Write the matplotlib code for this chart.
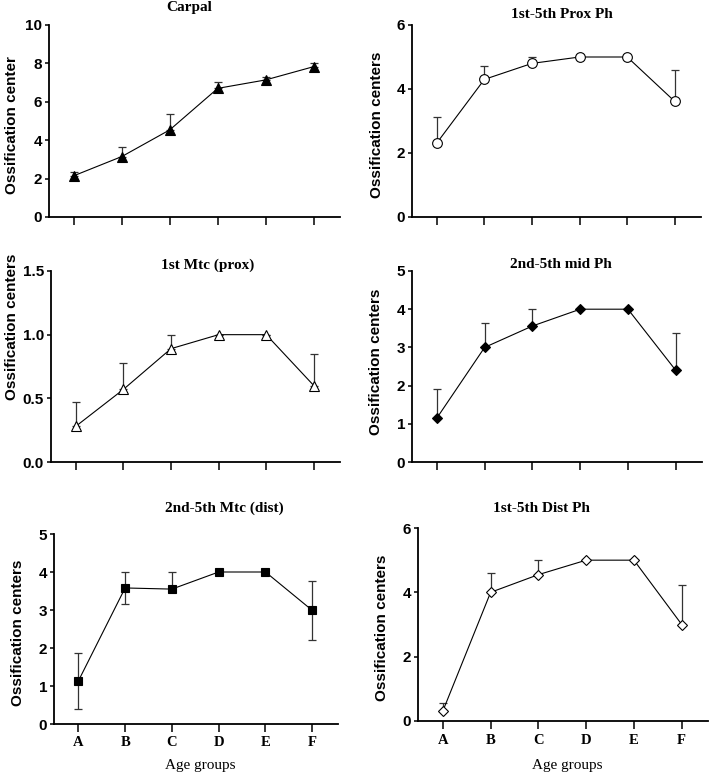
import numpy as np
import matplotlib
matplotlib.use('Agg')
import matplotlib.pyplot as plt

groups = ['A', 'B', 'C', 'D', 'E', 'F']

# means and error bars
carpal_mean = [2.15, 3.15, 4.54, 6.7, 7.14, 7.83]
carpal_up = [0.17, 0.49, 0.82, 0.32, 0.17, 0.21]
carpal_lo = [0, 0, 0, 0, 0, 0]

prox_mean = [2.31, 4.30, 4.80, 5.0, 5.0, 3.61]
prox_up = [0.80, 0.41, 0.21, 0, 0, 0.98]
prox_lo = [0, 0, 0, 0, 0, 0]

mtc1_mean = [0.28, 0.57, 0.89, 1.0, 1.0, 0.60]
mtc1_up = [0.19, 0.21, 0.11, 0, 0, 0.25]
mtc1_lo = [0, 0, 0, 0, 0, 0]

mid_mean = [1.15, 3.0, 3.56, 4.0, 4.0, 2.40]
mid_up = [0.77, 0.63, 0.44, 0, 0, 0.99]
mid_lo = [0, 0, 0, 0, 0, 0]

mtc_dist_mean = [1.13, 3.58, 3.55, 4.0, 4.0, 2.99]
mtc_dist_up = [0.73, 0.42, 0.45, 0, 0, 0.78]
mtc_dist_lo = [0.73, 0.43, 0, 0, 0, 0.77]

dist_mean = [0.31, 4.0, 4.55, 5.0, 5.0, 3.0]
dist_up = [0.24, 0.60, 0.47, 0, 0, 1.23]
dist_lo = [0, 0, 0, 0, 0, 0]

W, H = 709, 772
fig = plt.figure(figsize=(W / 100, H / 100), dpi=100)

def px_axes(left, top, right, bottom):
    return fig.add_axes([left / W, 1 - bottom / H, (right - left) / W, (bottom - top) / H])

panels = [
    # title, mean, up, lo, marker, fill, ylim, yticks, ylabel, box(px), title pos, ylabel pos
    ('Carpal', carpal_mean, carpal_up, carpal_lo, '^', 'black', 10, [0, 2, 4, 6, 8, 10],
     'Ossification center', (49, 25, 340, 217), (189, 7), (12, 125)),
    ('1st-5th Prox Ph', prox_mean, prox_up, prox_lo, 'o', 'white', 6, [0, 2, 4, 6],
     'Ossification centers', (412, 25, 701, 217), (562, 15), (377, 125)),
    ('1st Mtc (prox)', mtc1_mean, mtc1_up, mtc1_lo, '^', 'white', 1.5, [0.0, 0.5, 1.0, 1.5],
     'Ossification centers', (51, 271, 340, 462), (208, 265), (12, 327)),
    ('2nd-5th mid Ph', mid_mean, mid_up, mid_lo, 'D', 'black', 5, [0, 1, 2, 3, 4, 5],
     'Ossification centers', (412, 271, 702, 462), (561, 265), (376, 362)),
    ('2nd-5th Mtc (dist)', mtc_dist_mean, mtc_dist_up, mtc_dist_lo, 's', 'black', 5, [0, 1, 2, 3, 4, 5],
     'Ossification centers', (54, 534, 338, 724), (224, 508), (18, 633)),
    ('1st-5th Dist Ph', dist_mean, dist_up, dist_lo, 'D', 'white', 6, [0, 2, 4, 6],
     'Ossification centers', (418, 528, 708, 721), (541, 508), (382, 628)),
]

sizes = {'^': 6.5, 'o': 7, 'D': 5.5, 's': 6}

x = np.arange(len(groups))
for i, (title, mean, up, lo, mk, fc, ymax, yt, ylab, box, tpos, lpos) in enumerate(panels):
    ax = px_axes(*box)
    ax.errorbar(x, mean, yerr=[lo, up], fmt='none', ecolor='#333333', elinewidth=0.9,
                capsize=3, capthick=0.9, zorder=2)
    ax.plot(x, mean, color='black', lw=0.8, marker=mk, ms=sizes[mk], mfc=fc, mec='black',
            mew=0.8, zorder=3)
    ax.set_xlim(-0.52, 5.55)
    ax.set_ylim(0, ymax)
    ax.set_yticks(yt)
    if ymax == 1.5:
        ax.set_yticklabels(['%.1f' % v for v in yt])
    ax.set_xticks(x)
    for s in ['top', 'right']:
        ax.spines[s].set_visible(False)
    for s in ['left', 'bottom']:
        ax.spines[s].set_linewidth(1.3)
    ax.tick_params(axis='y', length=3, width=1.1, labelsize=11, pad=2)
    ax.tick_params(axis='x', length=6, width=1.1, pad=3)
    for lbl in ax.get_yticklabels():
        lbl.set_fontfamily('Liberation Sans')
        lbl.set_fontweight('bold')
    if i >= 4:
        ax.set_xticklabels(groups, fontfamily='Liberation Serif', fontweight='bold', fontsize=10.5)
        fig.text(((box[0] + box[2]) / 2 + 4) / W, 1 - 765 / H, 'Age groups',
                 fontfamily='Liberation Serif', fontsize=11, ha='center', va='center')
    else:
        ax.set_xticklabels([])
    fig.text(tpos[0] / W, 1 - tpos[1] / H, title, fontfamily='Liberation Serif',
             fontweight='bold', fontsize=11, ha='center', va='center')
    fig.text(lpos[0] / W, 1 - lpos[1] / H, ylab, fontfamily='Liberation Sans',
             fontweight='bold', fontsize=11, rotation=90, ha='center', va='center')

fig.savefig('out.png', dpi=100)
